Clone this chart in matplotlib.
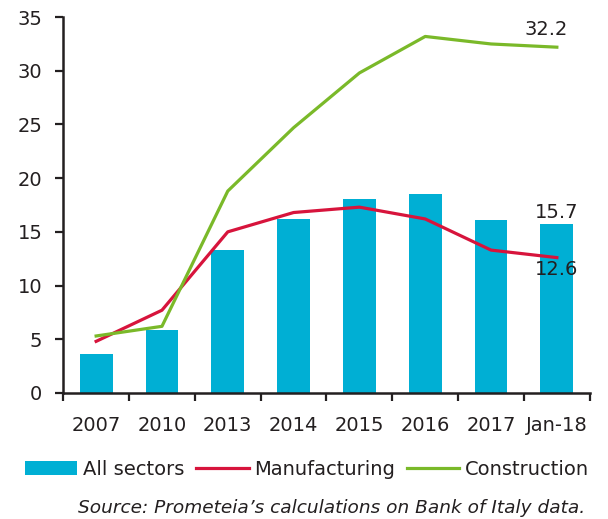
import matplotlib
matplotlib.use("Agg")
import matplotlib.pyplot as plt
import numpy as np

plt.rcParams['font.family'] = ['DejaVu Sans']

categories = ['2007', '2010', '2013', '2014', '2015', '2016', '2017', 'Jan-18']
all_sectors = [3.6, 5.9, 13.3, 16.2, 18.1, 18.5, 16.1, 15.7]
manufacturing = [4.8, 7.7, 15.0, 16.8, 17.3, 16.2, 13.3, 12.6]
construction = [5.3, 6.2, 18.8, 24.7, 29.8, 33.2, 32.5, 32.2]

blue = '#00AFD4'
red = '#D7143C'
green = '#7AB929'
txt = '#231F20'
fs = 14

fig = plt.figure(figsize=(6.08, 5.19), dpi=100)
ax = fig.add_axes([0.104, 0.243, 0.866, 0.724])

x = np.arange(len(categories))
ax.bar(x, all_sectors, width=0.5, color=blue, label='All sectors', zorder=1)
ax.plot(x, manufacturing, color=red, lw=2.3, label='Manufacturing', zorder=2)
ax.plot(x, construction, color=green, lw=2.3, label='Construction', zorder=2)

ax.set_xlim(-0.5, len(categories) - 0.5)
ax.set_ylim(0, 35)
ax.set_yticks(range(0, 36, 5))
ax.set_xticks(np.arange(-0.5, len(categories), 1))
ax.set_xticklabels([])
ax.set_xticks(x, minor=True)
ax.set_xticklabels(categories, minor=True)
ax.tick_params(axis='x', which='minor', length=0, pad=17, labelsize=fs, labelcolor=txt)
ax.tick_params(axis='x', which='major', length=6, width=1.6, color=txt)
ax.tick_params(axis='y', length=6, width=1.6, color=txt, labelsize=fs, labelcolor=txt, pad=9)

for s in ['top', 'right']:
    ax.spines[s].set_visible(False)
for s in ['left', 'bottom']:
    ax.spines[s].set_linewidth(1.8)
    ax.spines[s].set_color(txt)

ax.annotate(f'{construction[-1]}', (x[-1], construction[-1]), xytext=(-8, 6),
            textcoords='offset points', ha='center', va='bottom', fontsize=fs, color=txt)
ax.annotate(f'{all_sectors[-1]}', (x[-1], all_sectors[-1]), xytext=(0, 2),
            textcoords='offset points', ha='center', va='bottom', fontsize=fs, color=txt)
ax.annotate(f'{manufacturing[-1]}', (x[-1], manufacturing[-1]), xytext=(0, -2),
            textcoords='offset points', ha='center', va='top', fontsize=fs, color=txt)

handles, labels = ax.get_legend_handles_labels()
order = [2, 0, 1]
fig.legend([handles[i] for i in order], [labels[i] for i in order],
           loc='center', bbox_to_anchor=(0.505, 0.096), ncol=3,
           frameon=False, fontsize=fs, handlelength=2.7, handletextpad=0.3,
           columnspacing=0.6, labelcolor=txt)

fig.text(0.546, 0.022, "Source: Prometeia’s calculations on Bank of Italy data.",
         ha='center', va='center', fontsize=13.3, style='italic', color=txt)

fig.savefig('out.png', dpi=100)
